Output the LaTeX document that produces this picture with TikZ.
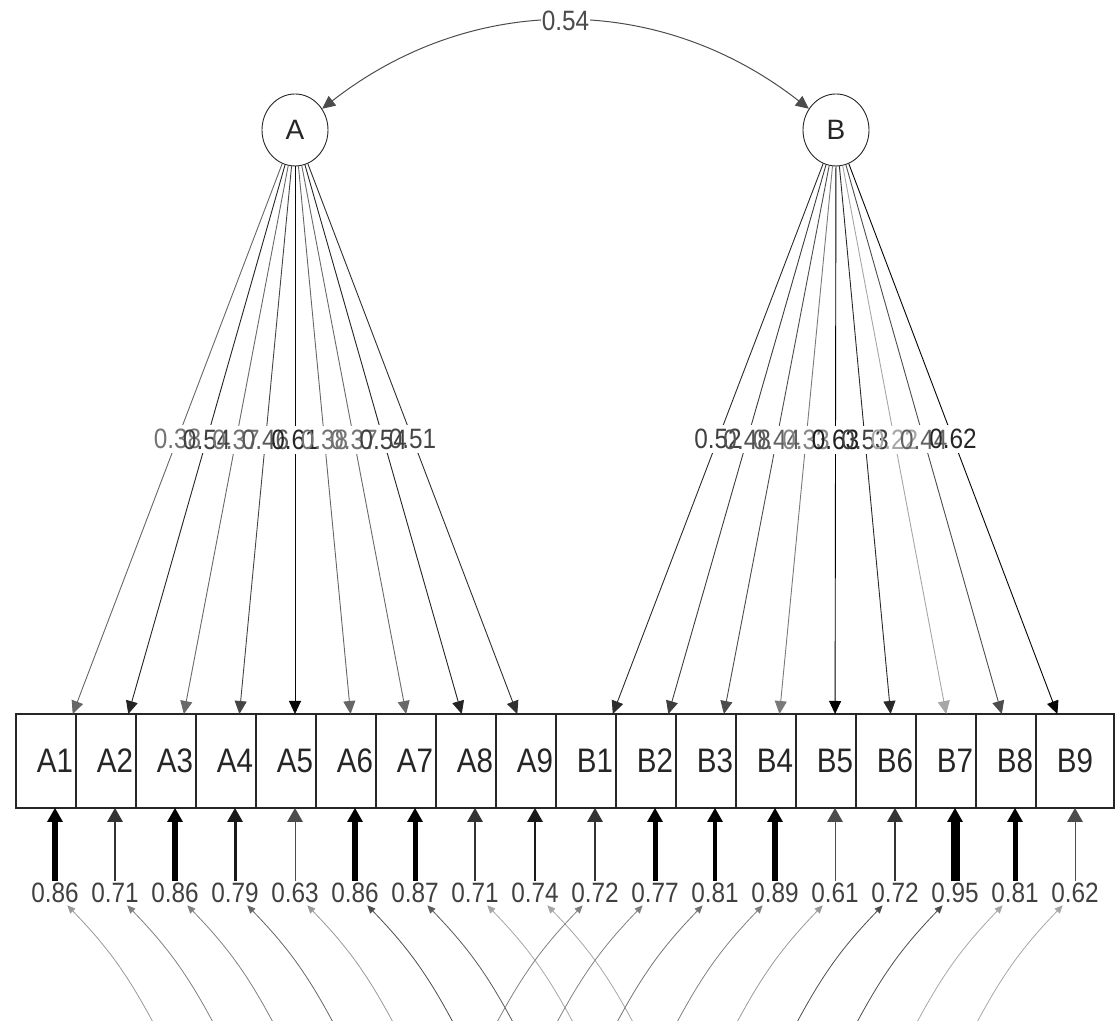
\documentclass[tikz,border=0pt]{standalone}
\usepackage{fontspec}
\setmainfont{Liberation Sans}
\newfontfamily\semfont[FakeStretch=0.87]{Liberation Sans}
\usetikzlibrary{arrows.meta, positioning, shapes.geometric}

\begin{document}
\begin{tikzpicture}[
    x=1pt, y=1pt,
    line width=0.9pt,
    latent/.style={draw=black!85, ellipse, minimum width=66pt, minimum height=72pt,
                   inner sep=0pt, text=black!85, font=\fontsize{28}{31}\selectfont},
    manifest/.style={draw=black!85, fill=white, minimum width=78pt, minimum height=94pt,
                     inner sep=0pt, outer sep=0pt, line width=1.1pt, text=black!85,
                     font=\semfont\fontsize{34}{38}\selectfont},
    load/.style={-{Triangle[length=13pt, width=12pt]}, line width=0.9pt},
    cov/.style={{Triangle[length=13pt, width=12pt]}-{Triangle[length=13pt, width=12pt]},
                line width=1pt, black!70},
    resid/.style={-{Triangle[length=14pt, width=16pt, line width=0pt]}},
    resloop/.style={-{Triangle[length=8pt, width=7pt]}, line width=0.8pt},
    ldbg/.style={fill=white, minimum width=44pt, minimum height=28pt, inner sep=0pt},
    ldlab/.style={inner sep=1pt, font=\semfont\fontsize{28}{31}\selectfont},
    reslab/.style={inner sep=2pt, text=black!75, font=\semfont\fontsize{28}{31}\selectfont}
]
\useasboundingbox (0,0) rectangle (1119,1020);
\clip (0,0) rectangle (1119,1020);

% ================= Latent factors =================
\node[latent] (A) at (295,890) {A};
\node[latent] (B) at (836,890) {B};

% covariance between the factors
\draw[cov] (A) to[out=38, in=142] node[fill=white, ldlab, text=black!70] (cAB) {0.54} (B);

% ================= Indicators (overlapping boxes) =================
\node[manifest] (A1) at (55,259) {A1};
\node[manifest, right=-18pt of A1] (A2) {A2};
\node[manifest, right=-18pt of A2] (A3) {A3};
\node[manifest, right=-18pt of A3] (A4) {A4};
\node[manifest, right=-18pt of A4] (A5) {A5};
\node[manifest, right=-18pt of A5] (A6) {A6};
\node[manifest, right=-18pt of A6] (A7) {A7};
\node[manifest, right=-18pt of A7] (A8) {A8};
\node[manifest, right=-18pt of A8] (A9) {A9};
\node[manifest, right=-18pt of A9] (B1) {B1};
\node[manifest, right=-18pt of B1] (B2) {B2};
\node[manifest, right=-18pt of B2] (B3) {B3};
\node[manifest, right=-18pt of B3] (B4) {B4};
\node[manifest, right=-18pt of B4] (B5) {B5};
\node[manifest, right=-18pt of B5] (B6) {B6};
\node[manifest, right=-18pt of B6] (B7) {B7};
\node[manifest, right=-18pt of B7] (B8) {B8};
\node[manifest, right=-18pt of B8] (B9) {B9};

% ================= Loadings (with blank label backgrounds) =================
\draw[load, black!60] (A) -- (A1) node[ldbg, pos=0.5] (mA1) {};
\draw[load, black!86] (A) -- (A2) node[ldbg, pos=0.5] (mA2) {};
\draw[load, black!59] (A) -- (A3) node[ldbg, pos=0.5] (mA3) {};
\draw[load, black!73] (A) -- (A4) node[ldbg, pos=0.5] (mA4) {};
\draw[load, black!97] (A) -- (A5) node[ldbg, pos=0.5] (mA5) {};
\draw[load, black!60] (A) -- (A6) node[ldbg, pos=0.5] (mA6) {};
\draw[load, black!59] (A) -- (A7) node[ldbg, pos=0.5] (mA7) {};
\draw[load, black!86] (A) -- (A8) node[ldbg, pos=0.5] (mA8) {};
\draw[load, black!81] (A) -- (A9) node[ldbg, pos=0.5] (mA9) {};

\draw[load, black!83] (B) -- (B1) node[ldbg, pos=0.5] (mB1) {};
\draw[load, black!76] (B) -- (B2) node[ldbg, pos=0.5] (mB2) {};
\draw[load, black!70] (B) -- (B3) node[ldbg, pos=0.5] (mB3) {};
\draw[load, black!52] (B) -- (B4) node[ldbg, pos=0.5] (mB4) {};
\draw[load, black] (B) -- (B5) node[ldbg, pos=0.5] (mB5) {};
\draw[load, black!84] (B) -- (B6) node[ldbg, pos=0.5] (mB6) {};
\draw[load, black!35] (B) -- (B7) node[ldbg, pos=0.5] (mB7) {};
\draw[load, black!70] (B) -- (B8) node[ldbg, pos=0.5] (mB8) {};
\draw[load, black!98] (B) -- (B9) node[ldbg, pos=0.5] (mB9) {};

% loading values
\node[ldlab, text=black!55] at (mA1) {0.38};
\node[ldlab, text=black!75] at (mA2) {0.54};
\node[ldlab, text=black!55] at (mA3) {0.37};
\node[ldlab, text=black!65] at (mA4) {0.46};
\node[ldlab, text=black!85] at (mA5) {0.61};
\node[ldlab, text=black!55] at (mA6) {0.38};
\node[ldlab, text=black!55] at (mA7) {0.37};
\node[ldlab, text=black!75] at (mA8) {0.54};
\node[ldlab, text=black!72] at (mA9) {0.51};

\node[ldlab, text=black!75] at (mB1) {0.52};
\node[ldlab, text=black!68] at (mB2) {0.48};
\node[ldlab, text=black!62] at (mB3) {0.44};
\node[ldlab, text=black!48] at (mB4) {0.33};
\node[ldlab, text=black!88] at (mB5) {0.63};
\node[ldlab, text=black!75] at (mB6) {0.53};
\node[ldlab, text=black!35] at (mB7) {0.22};
\node[ldlab, text=black!62] at (mB8) {0.44};
\node[ldlab, text=black!85] at (mB9) {0.62};

% ================= Residuals =================
\node[reslab] (eA1) at (55,127) {0.86};
\node[reslab] (eA2) at (115,127) {0.71};
\node[reslab] (eA3) at (175,127) {0.86};
\node[reslab] (eA4) at (235,127) {0.79};
\node[reslab] (eA5) at (295,127) {0.63};
\node[reslab] (eA6) at (355,127) {0.86};
\node[reslab] (eA7) at (415,127) {0.87};
\node[reslab] (eA8) at (475,127) {0.71};
\node[reslab] (eA9) at (535,127) {0.74};
\node[reslab] (eB1) at (595,127) {0.72};
\node[reslab] (eB2) at (655,127) {0.77};
\node[reslab] (eB3) at (715,127) {0.81};
\node[reslab] (eB4) at (775,127) {0.89};
\node[reslab] (eB5) at (835,127) {0.61};
\node[reslab] (eB6) at (895,127) {0.72};
\node[reslab] (eB7) at (955,127) {0.95};
\node[reslab] (eB8) at (1015,127) {0.81};
\node[reslab] (eB9) at (1075,127) {0.62};

% Arrows (residual into indicator)
\draw[resid, black, line width=6.5pt] (eA1) -- (A1);
\draw[resid, black!80, line width=1.5pt] (eA2) -- (A2);
\draw[resid, black, line width=6.5pt] (eA3) -- (A3);
\draw[resid, black!90, line width=3pt] (eA4) -- (A4);
\draw[resid, black!70, line width=1pt] (eA5) -- (A5);
\draw[resid, black, line width=6.5pt] (eA6) -- (A6);
\draw[resid, black, line width=5pt] (eA7) -- (A7);
\draw[resid, black!80, line width=1.5pt] (eA8) -- (A8);
\draw[resid, black!90, line width=2.5pt] (eA9) -- (A9);
\draw[resid, black!80, line width=1.5pt] (eB1) -- (B1);
\draw[resid, black, line width=5pt] (eB2) -- (B2);
\draw[resid, black, line width=4pt] (eB3) -- (B3);
\draw[resid, black, line width=6.5pt] (eB4) -- (B4);
\draw[resid, black!70, line width=1pt] (eB5) -- (B5);
\draw[resid, black!80, line width=1.5pt] (eB6) -- (B6);
\draw[resid, black, line width=9pt] (eB7) -- (B7);
\draw[resid, black, line width=5pt] (eB8) -- (B8);
\draw[resid, black!70, line width=1pt] (eB9) -- (B9);

% residual loops running off the bottom edge
\coordinate (oA1) at (155,-6);
\coordinate (oA2) at (215,-6);
\coordinate (oA3) at (275,-6);
\coordinate (oA4) at (335,-6);
\coordinate (oA5) at (395,-6);
\coordinate (oA6) at (455,-6);
\coordinate (oA7) at (515,-6);
\coordinate (oA8) at (575,-6);
\coordinate (oA9) at (635,-6);
\coordinate (oB1) at (495,-6);
\coordinate (oB2) at (555,-6);
\coordinate (oB3) at (615,-6);
\coordinate (oB4) at (675,-6);
\coordinate (oB5) at (735,-6);
\coordinate (oB6) at (795,-6);
\coordinate (oB7) at (855,-6);
\coordinate (oB8) at (915,-6);
\coordinate (oB9) at (975,-6);

\draw[resloop, black!40] (oA1) to[bend right=8] (eA1);
\draw[resloop, black!50] (oA2) to[bend right=8] (eA2);
\draw[resloop, black!50] (oA3) to[bend right=8] (eA3);
\draw[resloop, black!60] (oA4) to[bend right=8] (eA4);
\draw[resloop, black!40] (oA5) to[bend right=8] (eA5);
\draw[resloop, black!70] (oA6) to[bend right=8] (eA6);
\draw[resloop, black!65] (oA7) to[bend right=8] (eA7);
\draw[resloop, black!35] (oA8) to[bend right=8] (eA8);
\draw[resloop, black!35] (oA9) to[bend right=8] (eA9);
\draw[resloop, black!50] (oB1) to[bend left=8] (eB1);
\draw[resloop, black!50] (oB2) to[bend left=8] (eB2);
\draw[resloop, black!55] (oB3) to[bend left=8] (eB3);
\draw[resloop, black!50] (oB4) to[bend left=8] (eB4);
\draw[resloop, black!40] (oB5) to[bend left=8] (eB5);
\draw[resloop, black!70] (oB6) to[bend left=8] (eB6);
\draw[resloop, black!70] (oB7) to[bend left=8] (eB7);
\draw[resloop, black!35] (oB8) to[bend left=8] (eB8);
\draw[resloop, black!35] (oB9) to[bend left=8] (eB9);

\end{tikzpicture}
\end{document}
